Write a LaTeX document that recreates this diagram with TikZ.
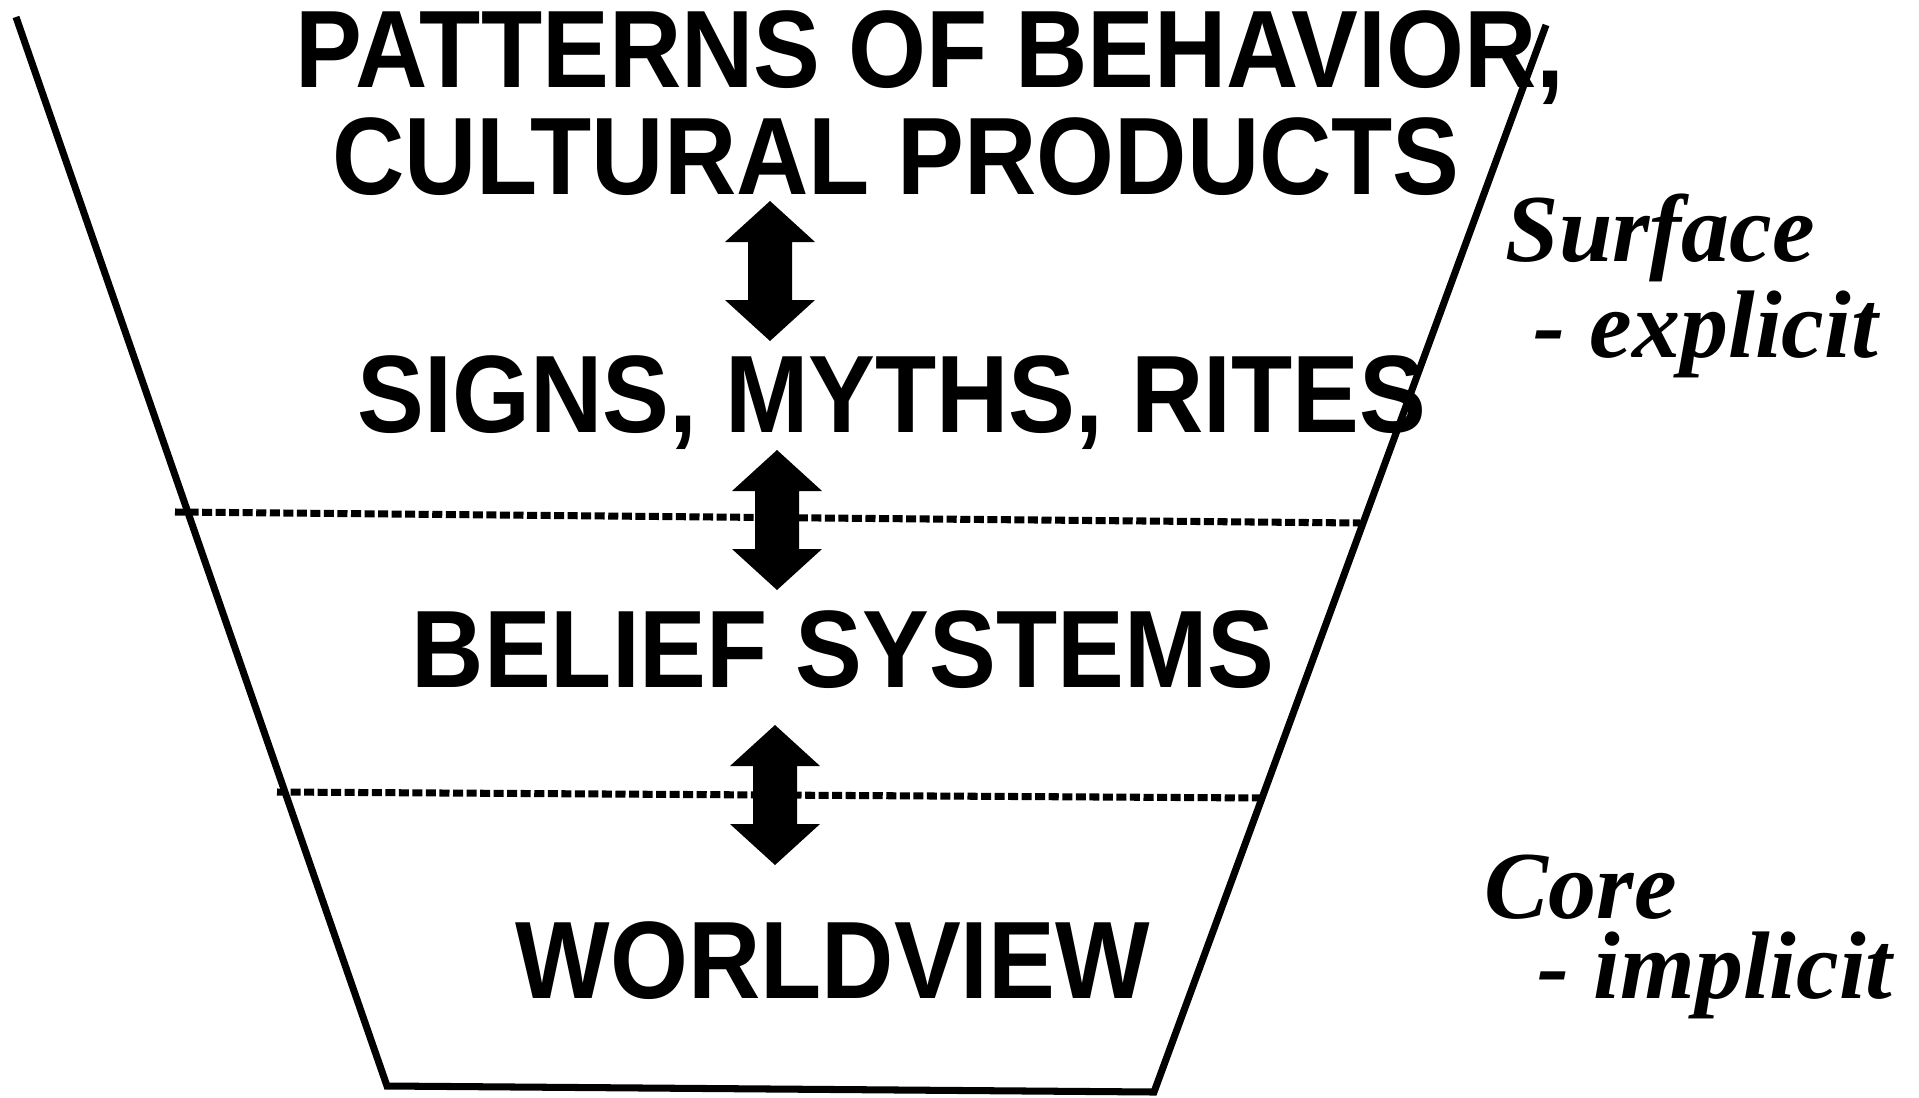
\documentclass[tikz,border=0pt]{standalone}
\usepackage{fontspec}
\newfontfamily\layerfont[FakeStretch=0.91]{Liberation Sans}
\newfontfamily\tagfont{Liberation Serif}
\begin{document}
\begin{tikzpicture}[x=0.01cm, y=-0.01cm, line join=miter,
	cup/.style={line width=2pt},
	level/.style={line width=2pt, dash pattern=on 2.85pt off 1pt},
	layer/.style={inner sep=0pt, anchor=base, font=\layerfont\bfseries\fontsize{31.3pt}{36pt}\selectfont},
	tag/.style={inner sep=0pt, anchor=base west, font=\tagfont\bfseries\itshape\fontsize{27.3pt}{32pt}\selectfont}]
	\useasboundingbox (0,0) rectangle (1919,1097);
	\draw[cup] (16,17)--(387,1086)--(1154,1092)--(1546,25);
	\draw[level] (175,512)--(1360,523);
	\draw[level] (277,792)--(1262,798);
	\node[layer] (patterns) at (930,88) {PATTERNS OF BEHAVIOR,};
	\node[layer] (cultural) at (896,195) {CULTURAL PRODUCTS};
	\node[layer] (signs) at (892,432) {SIGNS, MYTHS, RITES};
	\node[layer] (belief) at (843,687) {BELIEF SYSTEMS};
	\node[layer] (world) at (833,998) {WORLDVIEW};
	\foreach \cx/\cy in {770/271, 777/520, 775/795}
		\fill (\cx,\cy) +(0,-70)--+(45,-29)--+(22,-29)--+(22,29)--+(45,29)--+(0,70)
			--+(-45,29)--+(-22,29)--+(-22,-29)--+(-45,-29)--cycle;
	\node[tag] (surface) at (1505,261) {Surface};
	\node[tag] (explicit) at (1533,357) {- explicit};
	\node[tag] (core) at (1484,918) {Core};
	\node[tag] (implicit) at (1537,998) {- implicit};
\end{tikzpicture}
\end{document}
